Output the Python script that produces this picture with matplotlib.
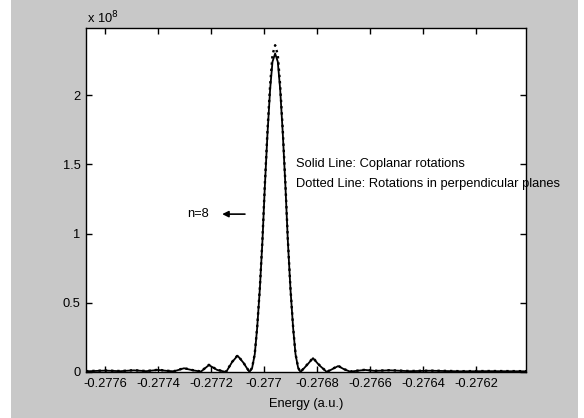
import matplotlib
matplotlib.use("Agg")
import matplotlib.pyplot as plt
from matplotlib.patches import Rectangle

plt.rcParams['font.family'] = ['Liberation Sans', 'DejaVu Sans']

# energy (a.u.) and intensity (x 1e8)
energy = [-0.277672, -0.2776, -0.277543, -0.277491, -0.277445, -0.2774, -0.277366,
          -0.27734, -0.277302, -0.277268, -0.277238, -0.277208, -0.277177, -0.277143,
          -0.277121, -0.2771, -0.277079, -0.277055, -0.277045, -0.277035, -0.277026,
          -0.277016, -0.277006, -0.276997, -0.276987, -0.276977, -0.276968, -0.276958,
          -0.276948, -0.276939, -0.276929, -0.276919, -0.27691, -0.2769, -0.27689,
          -0.276881, -0.276871, -0.276862, -0.276838, -0.276815, -0.276792, -0.276763,
          -0.276743, -0.27672, -0.276698, -0.276675, -0.276619, -0.276581, -0.276525,
          -0.27645, -0.276374, -0.27626, -0.276147, -0.276011]
solid = [0.005, 0.010, 0.006, 0.012, 0.006, 0.015, 0.008,
         0.005, 0.027, 0.012, 0.003, 0.050, 0.015, 0.000,
         0.070, 0.118, 0.070, 0.000, 0.028, 0.127, 0.315,
         0.593, 0.944, 1.335, 1.717, 2.040, 2.240, 2.300,
         2.240, 2.040, 1.717, 1.335, 0.944, 0.593, 0.315,
         0.127, 0.028, 0.000, 0.050, 0.100, 0.050, 0.000,
         0.020, 0.043, 0.020, 0.003, 0.015, 0.008, 0.012,
         0.006, 0.009, 0.005, 0.006, 0.005]
dotted = [0.006, 0.011, 0.007, 0.013, 0.007, 0.016, 0.009,
          0.006, 0.028, 0.013, 0.004, 0.052, 0.016, 0.001,
          0.072, 0.120, 0.072, 0.001, 0.030, 0.130, 0.320,
          0.600, 0.955, 1.350, 1.740, 2.070, 2.290, 2.360,
          2.290, 2.070, 1.740, 1.350, 0.955, 0.600, 0.320,
          0.130, 0.030, 0.001, 0.052, 0.102, 0.052, 0.001,
          0.021, 0.045, 0.021, 0.004, 0.016, 0.009, 0.013,
          0.007, 0.010, 0.006, 0.007, 0.006]

xticks = [-0.2776, -0.2774, -0.2772, -0.277, -0.2768, -0.2766, -0.2764, -0.2762]
xticklabels = ['-0.2776', '-0.2774', '-0.2772', '-0.277', '-0.2768', '-0.2766', '-0.2764', '-0.2762']
yticks = [0, 0.5, 1, 1.5, 2]
yticklabels = ['0', '0.5', '1', '1.5', '2']

fs = 9.3

fig = plt.figure(figsize=(5.84, 4.18), dpi=100, facecolor='white')
# grey matlab-style figure background
fig.patches.append(Rectangle((11 / 584, 0), 567 / 584, 1.0, transform=fig.transFigure,
                             facecolor='#c8c8c8', edgecolor='none', zorder=-10))

ax = fig.add_axes([86 / 584, 46 / 418, 440 / 584, 344 / 418])
ax.set_facecolor('white')
ax.plot(energy, solid, color='black', linewidth=1.3, linestyle='-')
ax.plot(energy, dotted, color='black', linewidth=1.7, linestyle=':')

ax.set_xlim(-0.277672, -0.276011)
ax.set_ylim(0, 2.484)
ax.set_xticks(xticks)
ax.set_xticklabels(xticklabels)
ax.set_yticks(yticks)
ax.set_yticklabels(yticklabels)
ax.tick_params(direction='in', length=4, width=1, top=True, right=True,
               labelsize=fs, pad=4, colors='black')
for s in ax.spines.values():
    s.set_linewidth(1.0)
    s.set_color('black')
    s.set_zorder(5)

ax.set_xlabel('Energy (a.u.)', fontsize=fs, labelpad=6)
fig.text(87 / 584, 1 - 18 / 418, 'x 10$^8$', fontsize=fs, va='center', ha='left')

ax.text(-0.276879, 1.5, 'Solid Line: Coplanar rotations', fontsize=fs,
        va='center', ha='left', clip_on=False)
ax.text(-0.276879, 1.355, 'Dotted Line: Rotations in perpendicular planes', fontsize=fs,
        va='center', ha='left', clip_on=False)
ax.text(-0.277291, 1.14, 'n=8', fontsize=fs, va='center', ha='left')
ax.annotate('', xy=(-0.277158, 1.14), xytext=(-0.277072, 1.14),
            arrowprops=dict(arrowstyle='-|>', color='black', lw=1.2, mutation_scale=9,
                            shrinkA=0, shrinkB=0))

fig.savefig('out.png', dpi=100, facecolor=fig.get_facecolor())
